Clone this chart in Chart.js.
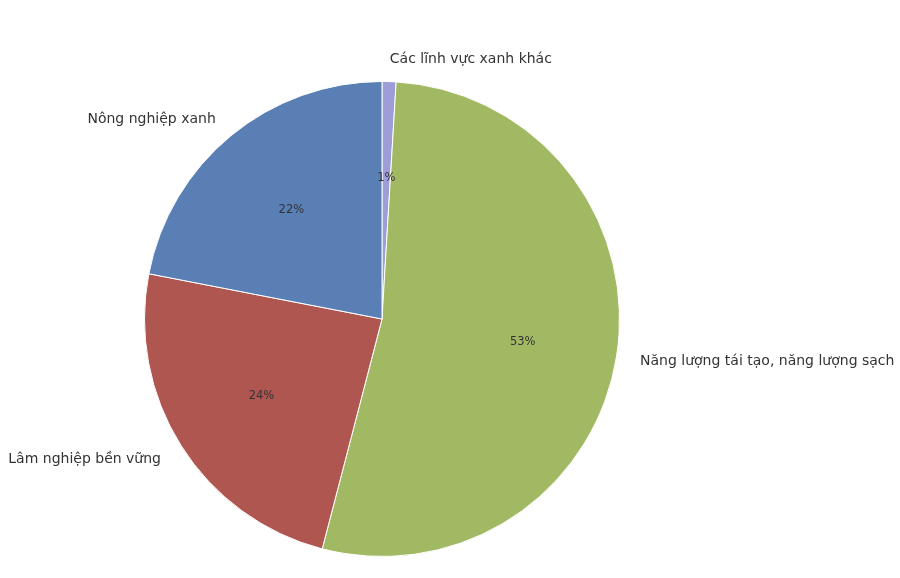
<!DOCTYPE html>
<html>
<head>
<meta charset="utf-8">
<script src="https://cdn.jsdelivr.net/npm/chart.js@4"></script>
<style>
  html, body { margin: 0; padding: 0; background: #fff; }
  #wrap { width: 900px; height: 578px; }
</style>
</head>
<body>
<div id="wrap"><canvas id="pie"></canvas></div>
<script>
const categories = ['Các lĩnh vực xanh khác', 'Năng lượng tái tạo, năng lượng sạch', 'Lâm nghiệp bền vững', 'Nông nghiệp xanh'];
const shares = [0.95, 53.1, 24.0, 21.95];
const sliceColors = ['#9e9dd8', '#a2b964', '#b05650', '#5a7fb5'];

// matplotlib-like labels: name at 1.1r, percent at 0.6r
const pieLabels = {
    id: 'pieLabels',
    afterDatasetsDraw(chart) {
        const ctx = chart.ctx;
        const meta = chart.getDatasetMeta(0);
        const total = shares.reduce((a, b) => a + b, 0);
        meta.data.forEach((arc, i) => {
            const p = arc.getProps(['x', 'y', 'startAngle', 'endAngle', 'outerRadius']);
            const mid = (p.startAngle + p.endAngle) / 2;
            const cos = Math.cos(mid), sin = Math.sin(mid);

            ctx.save();
            ctx.fillStyle = '#333';
            ctx.textBaseline = 'middle';

            ctx.font = '14px "DejaVu Sans"';
            ctx.textAlign = cos >= 0 ? 'left' : 'right';
            ctx.fillText(categories[i], p.x + cos * p.outerRadius * 1.1, p.y + sin * p.outerRadius * 1.1 + 1.5);

            ctx.font = '11.5px "DejaVu Sans"';
            ctx.textAlign = 'center';
            const pct = Math.round(shares[i] / total * 100) + '%';
            ctx.fillText(pct, p.x + cos * p.outerRadius * 0.6, p.y + sin * p.outerRadius * 0.6 + 1);
            ctx.restore();
        });
    }
};

new Chart(document.getElementById('pie'), {
    type: 'pie',
    data: {
        labels: categories,
        datasets: [{
            data: shares,
            backgroundColor: sliceColors,
            borderColor: '#fff',
            borderWidth: 1
        }]
    },
    options: {
        responsive: true,
        maintainAspectRatio: false,
        animation: false,
        layout: { padding: { left: 144, right: 280, top: 81, bottom: 21 } },
        plugins: {
            legend: { display: false },
            tooltip: { enabled: false }
        }
    },
    plugins: [pieLabels]
});
</script>
</body>
</html>
